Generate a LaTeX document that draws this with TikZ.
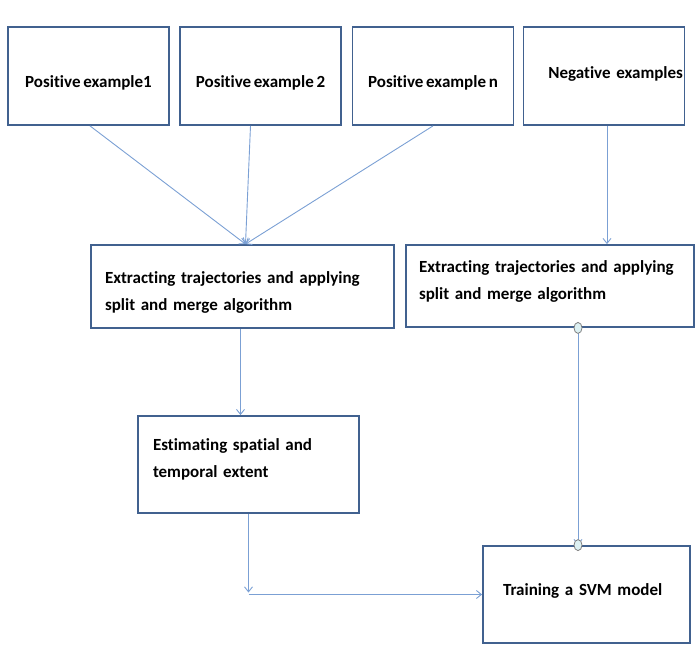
\documentclass[tikz,border=0pt]{standalone}
\usepackage{fontspec}
\setmainfont{Carlito}[RawFeature=-liga,WordSpace=0.7]
\usepackage{tikz}
\usetikzlibrary{positioning,calc,arrows.meta,shapes.geometric}

\definecolor{boxblue}{HTML}{41618F}
\definecolor{lineblue}{HTML}{7BA0D4}
\definecolor{dotfill}{HTML}{DDF1F3}

\tikzset{
  stepbox/.style={draw=boxblue, line width=1.8pt, rectangle, font=\fontsize{17}{27}\selectfont\bfseries, align=left},
  topbox/.style={stepbox, minimum width=161, minimum height=98, align=center, text height=25},
  flow/.style={draw=lineblue, line width=0.9pt, -{Straight Barb[length=5pt,width=8pt]}},
  joint/.style={ellipse, draw=gray, line width=0.8pt, fill=dotfill, minimum width=8, minimum height=11, inner sep=0pt},
}

\begin{document}
\begin{tikzpicture}[x=1pt,y=-1pt]
		\useasboundingbox (0,0) rectangle (696,670);
		
		\node[topbox] (pos1) at (88.5,76) {Positive example1};
		\node[topbox] (pos2) at (260.5,76) {Positive example 2};
		\node[topbox] (posn) at (433,76) {Positive example n};
		\node[topbox, text width=158, inner xsep=1, align=right, text height=12, text depth=8] (neg) at (604,76) {Negative examples};
		
		\node[stepbox, text width=275, inner xsep=14, minimum height=83, text height=23] (ext1) at (242.5,286.5) {Extracting trajectories and applying\\split and merge algorithm};
		\node[stepbox, text width=262, inner xsep=13, minimum height=82, text depth=39] (ext2) at (550,286) {Extracting trajectories and applying\\split and merge algorithm};
		\node[stepbox, text width=191, inner xsep=15, minimum height=97, text depth=39] (est) at (248.5,464.5) {Estimating spatial and\\temporal extent};
		\node[stepbox, text width=167, inner xsep=20, minimum height=97, text depth=10] (train) at (586.5,594.5) {Training a SVM model};
		
		\coordinate (corner) at (est.south |- train.west);
		
		\draw[flow] ([xshift=1.5]pos1.south) -- ([xshift=3]ext1.north);
		\draw[flow] ([xshift=-10]pos2.south) -- ([xshift=3]ext1.north);
		\draw[flow] (posn.south) -- ([xshift=3]ext1.north);
		\draw[flow] ([xshift=3]neg.south) -- ([xshift=3]neg.south |- ext2.north);
		\draw[flow] ([xshift=-2]ext1.south) -- ([xshift=-2]ext1.south |- est.north);
		\draw[flow] (est.south) -- ([yshift=2]corner);
		\draw[flow] (corner) -- (train.west);
		\draw[flow] ([xshift=28]ext2.south) -- ([xshift=-8.5]train.north);
		
		\node[joint] (jtop) at ([xshift=28]ext2.south) {};
		\node[joint] (jbot) at ([xshift=-8.5]train.north) {};
	\end{tikzpicture}
\end{document}
